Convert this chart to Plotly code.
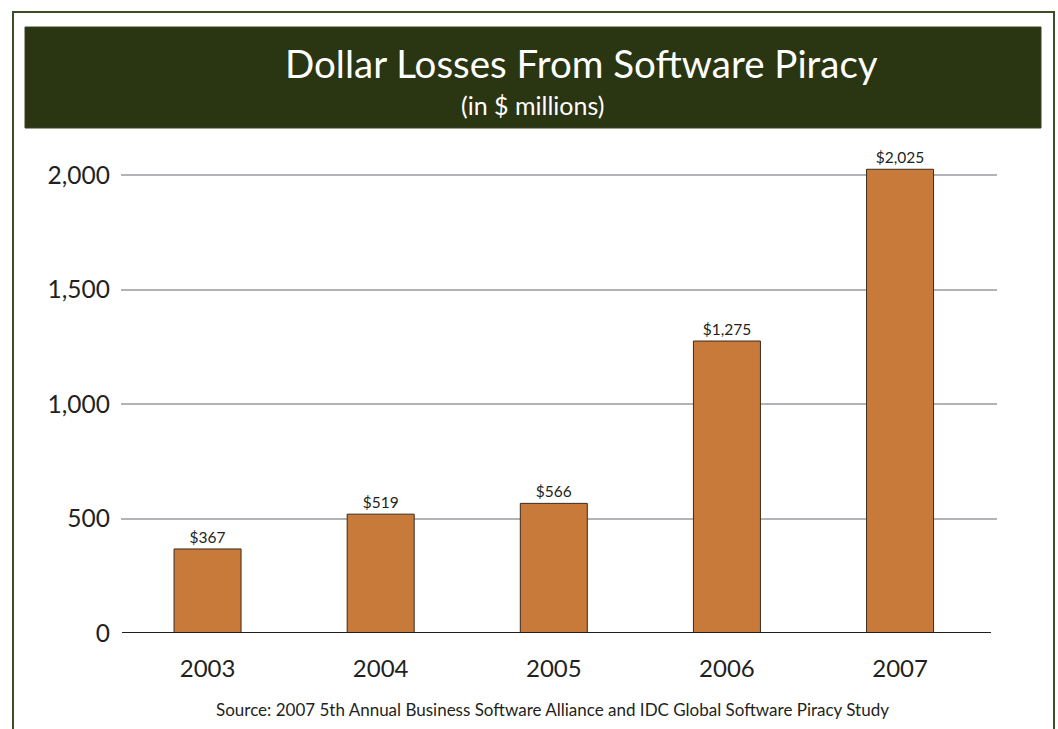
import plotly.graph_objects as go

years = ["2003", "2004", "2005", "2006", "2007"]
losses = [367, 519, 566, 1275, 2025]
y_ticks = [0, 500, 1000, 1500, 2000]
y_tick_labels = ["0", "500", "1,000", "1,500", "2,000"]
title_text = "Dollar Losses From Software Piracy"
subtitle_text = "(in $ millions)"
source_text = "Source: 2007 5th Annual Business Software Alliance and IDC Global Software Piracy Study"

W, H = 1058, 729
L, R, T, B = 121, 997, 140, 633  # plot area in px
FONT = "Lato"
TXT = "#231f20"


def px_x(x):
    return (x - L) / (R - L)


def px_y(y):
    return (B - y) / (B - T)


fig = go.Figure()
fig.add_trace(go.Bar(
    x=years, y=losses,
    width=0.387,
    marker=dict(color="#c87a3a", line=dict(color="#3b2a1c", width=1)),
    text=[f"${v:,}" for v in losses],
    textposition="outside",
    textfont=dict(family=FONT, size=15.5, color=TXT),
    cliponaxis=False,
    hoverinfo="skip",
))

shapes = [
    # outer border
    dict(type="rect", xref="paper", yref="paper",
         x0=px_x(13), x1=px_x(1054), y0=px_y(760), y1=px_y(12),
         line=dict(color="#3d4d26", width=2), fillcolor="rgba(0,0,0,0)", layer="below"),
    # banner
    dict(type="rect", xref="paper", yref="paper",
         x0=px_x(25), x1=px_x(1041), y0=px_y(128), y1=px_y(27),
         line=dict(color="#3a4228", width=1), fillcolor="#2a3512", layer="below"),
    # baseline
    dict(type="line", xref="paper", yref="y",
         x0=px_x(122), x1=px_x(991), y0=0, y1=0,
         line=dict(color=TXT, width=2)),
]

annotations = [
    dict(text=title_text, xref="paper", yref="paper", x=px_x(581), y=px_y(63),
         xanchor="center", yanchor="middle", showarrow=False,
         font=dict(family=FONT, size=38.5, color="white")),
    dict(text=subtitle_text, xref="paper", yref="paper", x=px_x(532), y=px_y(105),
         xanchor="center", yanchor="middle", showarrow=False,
         font=dict(family=FONT, size=25, color="white")),
    dict(text=source_text, xref="paper", yref="paper", x=px_x(552), y=px_y(709),
         xanchor="center", yanchor="middle", showarrow=False,
         font=dict(family=FONT, size=17, color=TXT)),
]

fig.update_layout(
    width=W, height=H,
    margin=dict(l=L, r=W - R, t=T, b=H - B, pad=0),
    paper_bgcolor="white", plot_bgcolor="white",
    showlegend=False,
    bargap=0.6,
    shapes=shapes,
    annotations=annotations,
    xaxis=dict(
        type="category", range=[-0.5, 4.56],
        showgrid=False, zeroline=False, showline=False,
        ticks="", ticklabelstandoff=19,
        tickfont=dict(family=FONT, size=24, color=TXT),
        fixedrange=True,
    ),
    yaxis=dict(
        range=[0, (B - T) / 0.229],
        tickvals=y_ticks, ticktext=y_tick_labels,
        showgrid=True, gridcolor="#b3b3b7", gridwidth=2,
        zeroline=False, showline=False, ticks="",
        ticklabelstandoff=10,
        tickfont=dict(family=FONT, size=24.5, color=TXT),
        fixedrange=True,
    ),
)

fig.write_html("out.html")
